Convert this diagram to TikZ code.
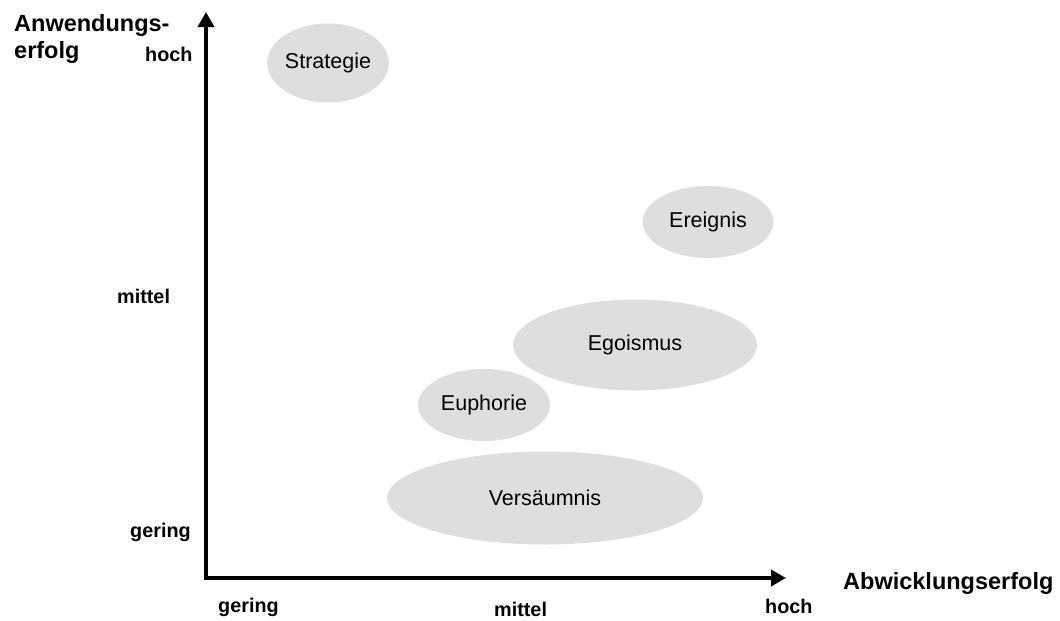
\documentclass[tikz,border=0pt]{standalone}
\usepackage{fontspec}
\setmainfont{Liberation Sans}
\usetikzlibrary{arrows.meta,shapes.geometric}
\begin{document}
\begin{tikzpicture}[x=1pt,y=-1pt,
  axis/.style={line width=4.5pt,-{Triangle[width=16pt,length=15pt]}},
  field/.style={ellipse,fill=black!13,draw=none,inner sep=0pt,
    font=\fontsize{21.5}{24}\selectfont},
  title/.style={font=\fontsize{23.5}{27}\bfseries\selectfont,inner sep=0pt},
  tick/.style={font=\fontsize{19.8}{22}\bfseries\selectfont,inner sep=0pt}]
\useasboundingbox (0,0) rectangle (1060,621);

% fields
\node[field,minimum width=114pt,minimum height=79pt] (strat) at (328,63) {Strategie};
\node[field,minimum width=131pt,minimum height=72pt] (ereig) at (708,222) {Ereignis};
\node[field,minimum width=244pt,minimum height=91pt] (ego) at (635,345) {Egoismus};
\node[field,minimum width=132pt,minimum height=72pt] (euph) at (484,405) {Euphorie};
\node[field,minimum width=316pt,minimum height=93pt] (vers) at (545,498) {Versäumnis};

% axes
\coordinate (origin) at (206,578);
\coordinate (ytop) at (206,12);
\coordinate (xend) at (786,578);
\draw[axis] ([yshift=-2.25pt]origin) -- (ytop);
\draw[axis] ([xshift=-2.25pt]origin) -- (xend);

% axis titles
\node[title,anchor=base west] (yt1) at (14,31) {Anwendungs-};
\node[title,anchor=base west] (yt2) at (14,58) {erfolg};
\node[title,anchor=base west] (xt) at (843,589) {Abwicklungserfolg};

% tick labels
\node[tick,anchor=base west] (yh) at (145,61) {hoch};
\node[tick,anchor=base west] (ym) at (117,303) {mittel};
\node[tick,anchor=base west] (yg) at (130,537) {gering};
\node[tick,anchor=base west] (xg) at (218,612) {gering};
\node[tick,anchor=base west] (xm) at (494,616) {mittel};
\node[tick,anchor=base west] (xh) at (765,613) {hoch};
\end{tikzpicture}
\end{document}
